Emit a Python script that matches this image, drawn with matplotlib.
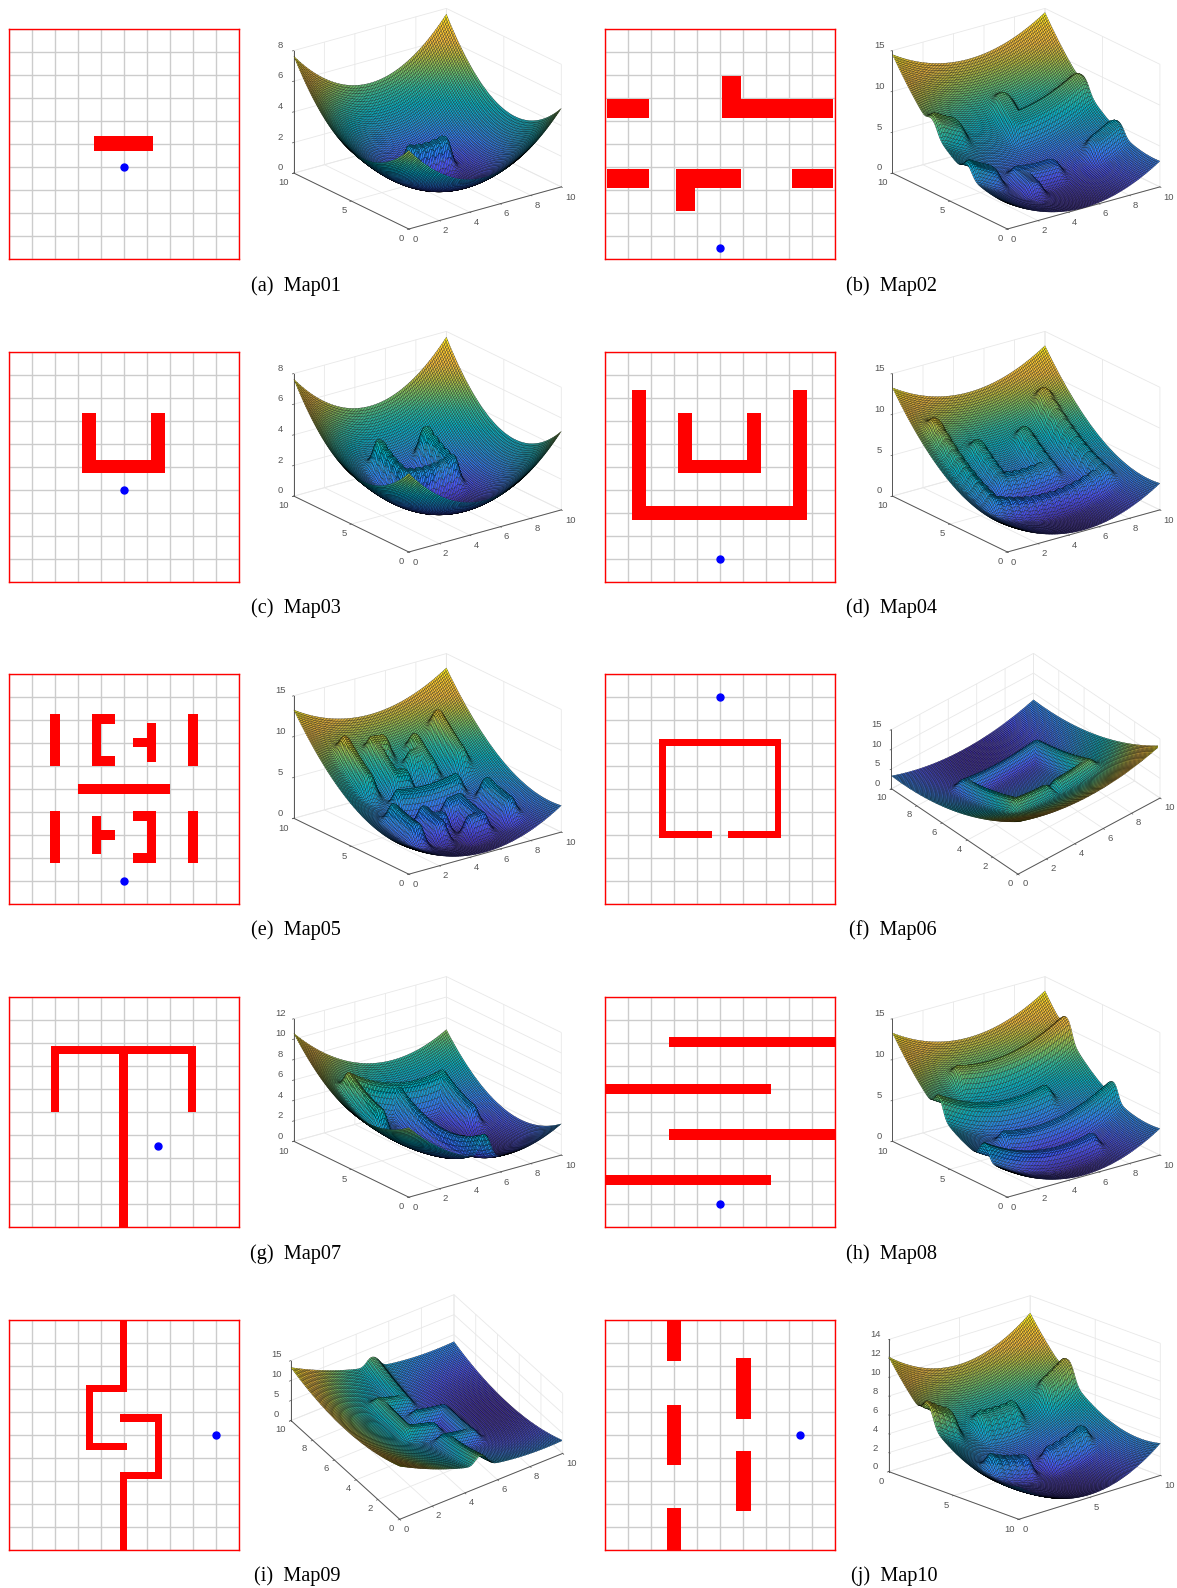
#!/usr/bin/env python3

from matplotlib.colors import LinearSegmentedColormap, Normalize
from matplotlib.patches import Rectangle
from mpl_toolkits.mplot3d import proj3d
import matplotlib

matplotlib.use("Agg")
import matplotlib.pyplot as plt
import numpy as np

WIDTH = 1177
HEIGHT = 1588

names = ["Map01", "Map02", "Map03", "Map04", "Map05", "Map06", "Map07", "Map08", "Map09", "Map10"]
letters = ["a", "b", "c", "d", "e", "f", "g", "h", "i", "j"]

goals = [(5, 4), (5, 0.46), (5, 4), (5, 1), (5, 1), (5, 9), (6.5, 3.5), (5, 1), (9, 5), (8.5, 5)]

# walls, as x0, y0, x1, y1 in map units
walls_01 = [(3.7, 4.67, 6.3, 5.33)]
walls_02 = [
    (0.08, 6.1, 1.92, 6.92),
    (5.09, 6.1, 9.92, 6.92),
    (5.09, 6.1, 5.93, 7.94),
    (0.08, 3.08, 1.92, 3.89),
    (3.1, 3.08, 5.93, 3.89),
    (3.1, 2.06, 3.92, 3.89),
    (8.11, 3.08, 9.93, 3.89),
]
walls_03 = [(3.2, 4.71, 3.82, 7.31), (3.2, 4.71, 6.8, 5.29), (6.18, 4.71, 6.8, 7.31)]
walls_04 = [
    (1.18, 2.69, 1.8, 8.33),
    (1.18, 2.69, 8.8, 3.3),
    (8.18, 2.69, 8.8, 8.33),
    (3.17, 4.71, 3.79, 7.31),
    (3.17, 4.71, 6.79, 5.29),
    (6.17, 4.71, 6.79, 7.31),
]
walls_05 = [
    (1.8, 6.0, 2.22, 8.25),
    (3.61, 6.0, 4.02, 8.25),
    (3.61, 7.82, 4.61, 8.25),
    (3.61, 6.0, 4.61, 6.42),
    (6.01, 6.18, 6.42, 7.85),
    (5.41, 6.81, 6.42, 7.21),
    (7.81, 6.0, 8.22, 8.25),
    (3.0, 4.78, 7.03, 5.2),
    (1.79, 1.79, 2.22, 4.02),
    (3.61, 2.17, 4.02, 3.83),
    (3.61, 2.77, 4.61, 3.19),
    (6.01, 1.79, 6.42, 4.02),
    (5.41, 3.58, 6.42, 4.02),
    (5.41, 1.79, 6.42, 2.21),
    (7.81, 1.79, 8.22, 4.02),
]
walls_06 = [
    (2.36, 2.85, 2.67, 7.17),
    (7.37, 2.85, 7.67, 7.17),
    (2.36, 6.86, 7.67, 7.17),
    (2.36, 2.85, 4.67, 3.14),
    (5.35, 2.85, 7.67, 3.14),
]
walls_07 = [
    (1.84, 7.49, 8.16, 7.84),
    (1.84, 4.98, 2.19, 7.84),
    (7.8, 4.98, 8.16, 7.84),
    (4.82, 0, 5.18, 7.84),
]
walls_08 = [
    (2.77, 7.8, 10, 8.24),
    (0, 5.77, 7.21, 6.21),
    (2.77, 3.79, 10, 4.23),
    (0, 1.81, 7.21, 2.25),
]
walls_09 = [
    (4.85, 6.86, 5.16, 10),
    (3.35, 6.86, 5.16, 7.17),
    (3.35, 4.34, 3.66, 7.17),
    (3.35, 4.34, 5.16, 4.66),
    (4.85, 5.57, 6.67, 5.89),
    (6.36, 3.08, 6.67, 5.89),
    (4.85, 3.08, 6.67, 3.38),
    (4.85, 0, 5.16, 3.38),
]
walls_10 = [
    (2.7, 8.2, 3.32, 10),
    (2.7, 3.67, 3.32, 6.31),
    (2.7, 0, 3.32, 1.8),
    (5.71, 5.69, 6.33, 8.33),
    (5.71, 1.67, 6.33, 4.3),
]
walls = [walls_01, walls_02, walls_03, walls_04, walls_05, walls_06, walls_07, walls_08, walls_09, walls_10]

# heights of the ridges above the bowl, estimated from the 3D panels
ridge_heights = [2.2, 1.7, 2.2, 1.9, 2.7, 2.6, 2.3, 2.0, 2.6, 1.9]
# distance between the humps on a ridge crest, small where the crest looks smooth
hump_spacing = [0.6, 0.2, 0.6, 0.6, 0.3, 0.2, 0.3, 0.15, 0.2, 0.6]
bowl_coefficient = 1 / 8

z_ticks = [
    [0, 2, 4, 6, 8],
    [0, 5, 10, 15],
    [0, 2, 4, 6, 8],
    [0, 5, 10, 15],
    [0, 5, 10, 15],
    [0, 5, 10, 15],
    [0, 2, 4, 6, 8, 10, 12],
    [0, 5, 10, 15],
    [0, 5, 10, 15],
    [0, 2, 4, 6, 8, 10, 12, 14],
]
x_ticks = [[0, 2, 4, 6, 8, 10]] * 9 + [[0, 5, 10]]
y_ticks = [[0, 5, 10]] * 5 + [[0, 2, 4, 6, 8, 10]] + [[0, 5, 10]] * 2 + [[0, 2, 4, 6, 8, 10]] + [[0, 5, 10]]

# layout, in pixels of the output picture
row_tops = [28.5, 351.5, 673.7, 996.7, 1319.7]
column_lefts = [8.5, 605]
panel_width = 230
panel_height = 230
caption_x = [[295.5, 891], [295.5, 891], [295.5, 892.5], [295.5, 891], [297, 894]]
caption_y = [290.6, 613, 935.3, 1258.5, 1581.5]

# azimuth, elevation, z box ratio, front corner x and y offset, width of right axis on screen
default_view = (-127, 21.5, 0.69, 408.8, 200.5, 152.5)
views = [
    default_view,
    (-127, 21.5, 0.69, 1007.4, 200.5, 152.5),
    default_view,
    (-127, 21.5, 0.69, 1007.4, 200.5, 152.5),
    default_view,
    (-131.7, 37, 0.39, 1018, 200.5, 142),
    default_view,
    (-127, 21.5, 0.69, 1007.4, 200.5, 152.5),
    (-123.7, 37.3, 0.385, 399.7, 199.6, 163),
    (-42.6, 19.7, 0.73, 1018.8, 199.6, 141.5),
]
# the corner nearest the viewer, and the one at the right, as x, y
front_corners = [(0, 0)] * 9 + [(10, 0)]
right_corners = [(10, 0)] * 9 + [(10, 10)]

parula_colors = [
    "#3e2aa8", "#4752f4", "#2f80f8", "#1a9cd8", "#05b2c4", "#2abca0",
    "#6fc168", "#b8bd3e", "#f2ba3a", "#fdcb2c", "#f9fb14",
]
parula = LinearSegmentedColormap.from_list("parula", parula_colors)

plt.rcParams["font.family"] = ["Liberation Sans", "DejaVu Sans"]
plt.rcParams["axes3d.automargin"] = False


def px_axes(left, top, width, height, **kwargs):
    return fig.add_axes(
        [left / WIDTH, 1 - (top + height) / HEIGHT, width / WIDTH, height / HEIGHT], **kwargs
    )


def draw_map(ax, wall_list, goal):
    ax.set_xlim(0, 10)
    ax.set_ylim(0, 10)
    ax.set_xticks(range(11))
    ax.set_yticks(range(11))
    ax.tick_params(length=0, labelleft=False, labelbottom=False)
    ax.grid(color="#cccccc", linewidth=1.0)
    ax.set_axisbelow(True)
    for x0, y0, x1, y1 in wall_list:
        ax.add_patch(Rectangle((x0, y0), x1 - x0, y1 - y0, facecolor="#ff0000", edgecolor="none"))
    ax.plot(*goal, "o", color="#0000ff", markersize=5, clip_on=False)
    for spine in ax.spines.values():
        spine.set_color("#ff0000")
        spine.set_linewidth(1.0)


def surface_height(X, Y, wall_list, goal, ridge, spacing):
    Z = bowl_coefficient * ((X - goal[0]) ** 2 + (Y - goal[1]) ** 2)
    bump = np.zeros_like(X)
    for x0, y0, x1, y1 in wall_list:
        half = min(x1 - x0, y1 - y0) / 2
        if x1 - x0 > y1 - y0:
            n = max(2, int(round((x1 - x0) / spacing)) + 1)
            px = np.linspace(x0 + half, x1 - half, n)
            py = np.full(n, (y0 + y1) / 2)
        else:
            n = max(2, int(round((y1 - y0) / spacing)) + 1)
            px = np.full(n, (x0 + x1) / 2)
            py = np.linspace(y0 + half, y1 - half, n)
        dist = np.min(np.hypot(X[..., None] - px, Y[..., None] - py), axis=-1)
        gap = np.maximum(dist - 0.6 * half, 0)
        bump = np.maximum(bump, np.exp(-((gap / 0.4) ** 2)))
    return Z + ridge * bump


def screen_point(ax, x, y, z):
    sx, sy, _ = proj3d.proj_transform(x, y, z, ax.get_proj())
    return ax.transData.transform((sx, sy))


def place_surface(ax, front, right, front_x, front_y, axis_width):
    # find the size of the axes that gives the wanted box, then slide it into place
    size = 300
    ax.set_position([0.2, 0.2, size / WIDTH, size / HEIGHT])
    ax.apply_aspect()
    a = screen_point(ax, *front, 0)
    b = screen_point(ax, *right, 0)
    size = size * axis_width / abs(b[0] - a[0])
    ax.set_position([0.2, 0.2, size / WIDTH, size / HEIGHT])
    ax.apply_aspect()
    a = screen_point(ax, *front, 0)
    left = 0.2 + (front_x - a[0]) / WIDTH
    bottom = 0.2 + ((HEIGHT - front_y) - a[1]) / HEIGHT
    ax.set_position([left, bottom, size / WIDTH, size / HEIGHT])


def draw_surface(ax, index, front_y):
    azim, elev, z_ratio, front_x, _, axis_width = views[index]
    ticks_z = z_ticks[index]
    ax.set_xlim(0, 10)
    ax.set_ylim(0, 10)
    ax.set_zlim(0, ticks_z[-1])
    ax.set_proj_type("ortho")
    ax.view_init(elev=elev, azim=azim)
    ax.set_box_aspect((1, 1, z_ratio))
    place_surface(ax, front_corners[index], right_corners[index], front_x, front_y, axis_width)

    xs = np.linspace(0, 10, 101)
    X, Y = np.meshgrid(xs, xs)
    Z = surface_height(X, Y, walls[index], goals[index], ridge_heights[index], hump_spacing[index])
    colors = parula(Normalize(Z.min(), Z.max())(Z))
    ax.plot_surface(
        X, Y, Z, facecolors=colors, edgecolor="black", linewidth=0.17,
        rstride=1, cstride=1, shade=False, antialiased=True,
    )

    ax.set_xticks(x_ticks[index])
    ax.set_yticks(y_ticks[index])
    ax.set_zticks(ticks_z)
    ax.tick_params(labelsize=6.8, colors="#555555", pad=-4.5, length=2, width=0.5)
    ax.tick_params(axis="z", pad=-2.5)
    ax.zaxis._axinfo["juggled"] = (0, 2, 1) if index != 9 else (1, 2, 0)
    # push the labels of the two floor axes apart at the front corner
    left_side, right_side = (ax.yaxis, ax.xaxis) if index != 9 else (ax.xaxis, ax.yaxis)
    for label in left_side.get_ticklabels():
        label.set_ha("right")
    for label in right_side.get_ticklabels():
        label.set_ha("left")
    # and lift the z labels clear of the floor labels
    for label in ax.zaxis.get_ticklabels():
        label.set_va("bottom")
    for axis in (ax.xaxis, ax.yaxis, ax.zaxis):
        axis.set_pane_color((1, 1, 1, 0))
        axis.pane.set_edgecolor("#e4e4e4")
        axis.pane.set_linewidth(0.6)
        axis.line.set_color("#555555")
        axis.line.set_linewidth(0.7)
        axis._axinfo["grid"]["color"] = "#e8e8e8"
        axis._axinfo["grid"]["linewidth"] = 0.6
        axis._axinfo["tick"]["inward_factor"] = 0.12
        axis._axinfo["tick"]["outward_factor"] = 0.0
        axis._axinfo["tick"]["color"] = "#555555"
        axis._axinfo["tick"]["linewidth"] = {True: 0.5, False: 0.5}


fig = plt.figure(figsize=(WIDTH / 100, HEIGHT / 100), dpi=100)

for index in range(10):
    row, col = divmod(index, 2)
    top = row_tops[row]
    ax_map = px_axes(column_lefts[col], top, panel_width, panel_height)
    draw_map(ax_map, walls[index], goals[index])

    ax_surf = fig.add_axes([0.2, 0.2, 0.25, 0.2], projection="3d")
    ax_surf.patch.set_alpha(0)
    draw_surface(ax_surf, index, top + views[index][4])

    fig.text(
        caption_x[row][col] / WIDTH,
        1 - caption_y[row] / HEIGHT,
        f"({letters[index]})  {names[index]}",
        family=["Liberation Serif"],
        fontsize=14.6,
        ha="center",
        va="baseline",
    )

fig.savefig("out.png", dpi=100)
